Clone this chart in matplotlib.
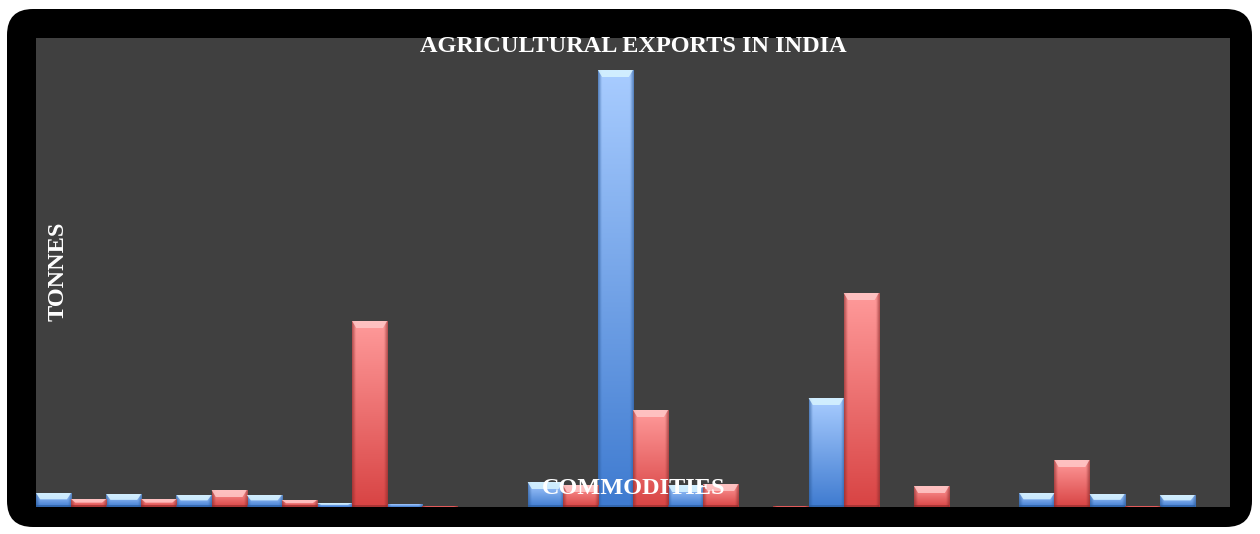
import numpy as np
import matplotlib
matplotlib.use("Agg")
import matplotlib.pyplot as plt
from matplotlib.patches import FancyBboxPatch, Polygon
from matplotlib.colors import to_rgb

# ---- data (tonnes) ----
categories = [f"Commodity {i+1}" for i in range(17)]
series_a = [112000, 104000, 96000, 96000, 32000, 24000, 0, 200000, 3496000,
            176000, 0, 872000, 0, 0, 112000, 104000, 96000]
series_b = [64000, 64000, 136000, 56000, 1488000, 12000, 0, 176000, 776000,
            184000, 12000, 1712000, 168000, 0, 376000, 12000, 0]
y_max = 3752000

title = "AGRICULTURAL EXPORTS IN INDIA"
x_label = "COMMODITIES"
y_label = "TONNES"

W, H = 1260, 534
fig = plt.figure(figsize=(W / 100, H / 100), dpi=100)
fig.patch.set_facecolor("white")

# background axes in pixel units for the rounded black frame
bg = fig.add_axes([0, 0, 1, 1], zorder=-5)
bg.set_xlim(0, W)
bg.set_ylim(0, H)
bg.axis("off")
bg.add_patch(FancyBboxPatch((7, 7), 1252 - 7, 527 - 9,
                            boxstyle="round,pad=0,rounding_size=26",
                            facecolor="black", edgecolor="none"))

ax = fig.add_axes([36 / W, (H - 507) / H, (1230 - 36) / W, (507 - 38) / H], zorder=1)
ax.set_facecolor("#404040")
for s in ax.spines.values():
    s.set_visible(False)
ax.set_xticks([])
ax.set_yticks([])

x = np.arange(len(categories))
w = 0.5

styles = [
    dict(base="#3f7bd0", light="#a8ccff", edge="#2a5a9a", bevel="#d8f4ff"),
    dict(base="#d84444", light="#ff9a9a", edge="#8a2a2a", bevel="#ffc8c8"),
]

px_y = y_max / 469.0  # data units per pixel vertically


def draw_bars(xs, vals, st):
    bars = ax.bar(xs, vals, width=w, color=st["base"], edgecolor="none",
                  linewidth=0, zorder=2)
    base = np.array(to_rgb(st["base"]))
    light = np.array(to_rgb(st["light"]))
    edge = np.array(to_rgb(st["edge"]))
    for b, v in zip(bars, vals):
        if v <= 0:
            continue
        x0 = b.get_x()
        x1 = x0 + b.get_width()
        h = b.get_height()
        ny, nx = 64, 32
        t = np.linspace(0, 1, ny)[:, None]
        col = light[None, None, :] * (1 - t[..., None]) + base[None, None, :] * t[..., None]
        col = np.repeat(col, nx, axis=1)
        u = np.linspace(-1, 1, nx)[None, :]
        ef = np.clip((np.abs(u) - 0.8) / 0.2, 0, 1)[..., None]
        col = col * (1 - 0.6 * ef) + edge[None, None, :] * 0.6 * ef
        im = ax.imshow(col, extent=[x0, x1, 0, h], aspect="auto",
                       origin="upper", zorder=2.5, interpolation="bilinear")
        im.set_clip_path(b)
        bev = min(7 * px_y, h * 0.45)
        ins = (x1 - x0) * 0.12
        if h > 3 * px_y:
            ax.add_patch(Polygon([[x0, h], [x1, h], [x1 - ins, h - bev], [x0 + ins, h - bev]],
                                 closed=True, facecolor=st["bevel"], edgecolor="none",
                                 alpha=0.85, zorder=3))
        if h > 4 * px_y:
            ax.add_patch(Polygon([[x0, 0], [x1, 0], [x1, 2 * px_y], [x0, 2 * px_y]],
                                 closed=True, facecolor=st["edge"], alpha=0.6,
                                 edgecolor="none", zorder=3))
    return bars


draw_bars(x - w / 2, series_a, styles[0])
draw_bars(x + w / 2, series_b, styles[1])
ax.set_xlim(-0.5, len(categories) - 0.5)
ax.set_ylim(0, y_max)

font = dict(family="Liberation Serif", weight="bold", color="white")
fig.text(633 / W, 1 - 47 / H, title, ha="center", va="center", fontsize=17.5, zorder=10, **font)
fig.text(634 / W, 1 - 489 / H, x_label, ha="center", va="center", fontsize=17.5, zorder=10, **font)
fig.text(58 / W, 1 - 271 / H, y_label, ha="center", va="center", rotation=90, fontsize=17.5, zorder=10, **font)

fig.savefig("out.png", dpi=100, facecolor="white")
